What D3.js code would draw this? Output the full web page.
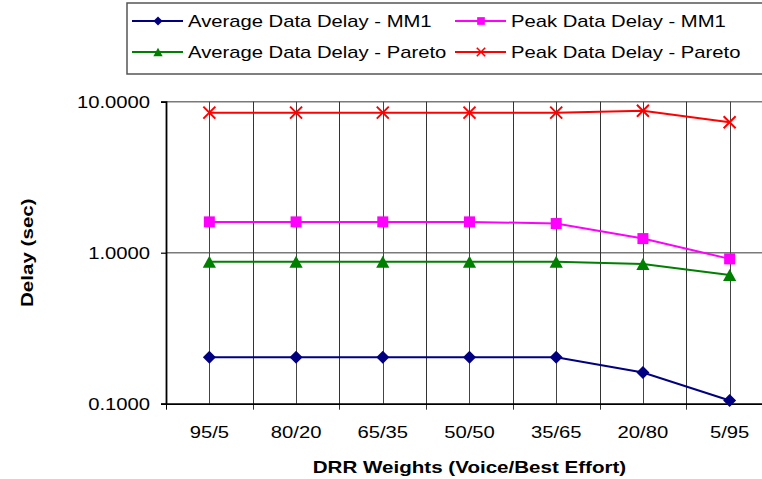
<!DOCTYPE html>
<html>
<head>
<meta charset="utf-8">
<script src="https://cdn.jsdelivr.net/npm/d3@7"></script>
<style>
  body { margin: 0; background: #fff; }
  text { font-family: "Liberation Sans", Arial, sans-serif; fill: #000; }
</style>
</head>
<body>
<div id="chart"></div>
<script>
// Delay vs DRR weights, log scale

// data
categories = ['95/5', '80/20', '65/35', '50/50', '35/65', '20/80', '5/95']
avgMM1     = [0.203, 0.203, 0.203, 0.203, 0.203, 0.161, 0.105]
peakMM1    = [1.60, 1.60, 1.60, 1.60, 1.56, 1.24, 0.91]
avgPareto  = [0.872, 0.872, 0.872, 0.872, 0.872, 0.842, 0.711]
peakPareto = [8.46, 8.46, 8.46, 8.46, 8.46, 8.71, 7.31]
seriesNames = ['Average Data Delay - MM1', 'Peak Data Delay - MM1',
               'Average Data Delay - Pareto', 'Peak Data Delay - Pareto']
yTicks = [0.1, 1, 10]

series = [
  { name: seriesNames[0], values: avgMM1,     color: '#000080', marker: 'diamond' },
  { name: seriesNames[1], values: peakMM1,    color: '#ff00ff', marker: 'square' },
  { name: seriesNames[2], values: avgPareto,  color: '#008000', marker: 'triangle' },
  { name: seriesNames[3], values: peakPareto, color: '#ff0000', marker: 'x' }
]

ancho_total = 762
alto_total = 479
plot = { left: 166, right: 773, top: 101.7, bottom: 403.7 }
stretchK = 1.19

svg = d3.select('#chart').append('svg')
  .attr('width', ancho_total)
  .attr('height', alto_total)
  .style('display', 'block')

// scales
x = d3.scaleBand().domain(categories).range([plot.left, plot.right]).padding(0)
y = d3.scaleLog().domain([0.1, 10]).range([plot.bottom, plot.top])
xc = d => x(d) + x.bandwidth() / 2

// widen text a bit, the original fonts are stretched
function stretch(sel) {
  sel.each(function() {
    const w = this.getComputedTextLength()
    d3.select(this).attr('textLength', w * stretchK).attr('lengthAdjust', 'spacingAndGlyphs')
  })
}

// markers
function markerPath(type, s) {
  if (type === 'diamond') return `M0,${-s}L${s},0L0,${s}L${-s},0Z`
  if (type === 'square') return `M${-s},${-s}H${s}V${s}H${-s}Z`
  if (type === 'triangle') return `M0,${-s}L${s * 1.1},${s}L${-s * 1.1},${s}Z`
  return `M${-s},${-s}L${s},${s}M${-s},${s}L${s},${-s}`
}
markerSize = { diamond: 6.5, square: 5.5, triangle: 6, x: 6 }

// gridlines
grid = svg.append('g')
grid.selectAll('.hgrid')
  .data(yTicks.filter(d => d !== 0.1))
  .join('line')
  .attr('x1', plot.left).attr('x2', plot.right)
  .attr('y1', d => y(d)).attr('y2', d => y(d))
  .attr('stroke', '#7a7a7a').attr('stroke-width', 1.6)

// boundaries between categories, with tick below the axis
grid.selectAll('.vb')
  .data(categories.slice(1))
  .join('line')
  .attr('x1', d => Math.round(x(d)) + 0.5).attr('x2', d => Math.round(x(d)) + 0.5)
  .attr('y1', plot.top).attr('y2', plot.bottom + 6)
  .attr('stroke', '#333').attr('stroke-width', 1)

// lines at category centers
grid.selectAll('.vc')
  .data(categories)
  .join('line')
  .attr('x1', d => Math.round(xc(d)) + 0.5).attr('x2', d => Math.round(xc(d)) + 0.5)
  .attr('y1', plot.top).attr('y2', plot.bottom)
  .attr('stroke', '#444').attr('stroke-width', 1)

// axes
yAxis = svg.append('g')
  .attr('transform', `translate(${plot.left}, 0)`)
  .call(d3.axisLeft(y).tickValues(yTicks).tickFormat(d3.format('.4f')).tickSize(5).tickPadding(11))
yAxis.select('.domain').attr('stroke', '#000').attr('stroke-width', 1.8)
yAxis.selectAll('.tick line').attr('stroke', '#000').attr('stroke-width', 1.2)
yAxis.selectAll('.tick text')
  .attr('font-size', '17px')
  .attr('font-family', '"Liberation Sans", Arial, sans-serif')
  .attr('dy', '0.35em')
  .call(stretch)

xAxis = svg.append('g')
  .attr('transform', `translate(0, ${plot.bottom})`)
  .call(d3.axisBottom(x).tickSize(0).tickPadding(22))
xAxis.select('.domain').attr('stroke', '#000').attr('stroke-width', 1.8)
xAxis.selectAll('.tick text')
  .attr('font-size', '17px')
  .attr('font-family', '"Liberation Sans", Arial, sans-serif')
  .call(stretch)
svg.append('line')
  .attr('x1', plot.left + 0.5).attr('x2', plot.left + 0.5)
  .attr('y1', plot.bottom).attr('y2', plot.bottom + 6)
  .attr('stroke', '#000')

// axis titles
svg.append('text')
  .attr('x', (plot.left + plot.right) / 2)
  .attr('y', 473)
  .attr('text-anchor', 'middle')
  .attr('font-size', '17.3px')
  .attr('font-weight', 'bold')
  .text('DRR Weights (Voice/Best Effort)')
  .call(stretch)

svg.append('text')
  .attr('transform', `translate(33, ${y(1)}) rotate(-90)`)
  .attr('text-anchor', 'middle')
  .attr('font-size', '17.3px')
  .attr('font-weight', 'bold')
  .text('Delay (sec)')
  .call(stretch)

// series lines and markers
lineGen = d3.line()
  .x((d, i) => xc(categories[i]))
  .y(d => y(d))

series.forEach(s => {
  svg.append('path')
    .attr('d', lineGen(s.values))
    .attr('fill', 'none')
    .attr('stroke', s.color)
    .attr('stroke-width', 2)
  svg.selectAll(null)
    .data(s.values)
    .join('path')
    .attr('transform', (d, i) => `translate(${xc(categories[i])}, ${y(d)})`)
    .attr('d', markerPath(s.marker, markerSize[s.marker]))
    .attr('fill', s.marker === 'x' ? 'none' : s.color)
    .attr('stroke', s.marker === 'x' ? s.color : 'none')
    .attr('stroke-width', 2)
})

// legend
legend = svg.append('g')
legend.append('rect')
  .attr('x', 127).attr('y', 3)
  .attr('width', 660).attr('height', 71)
  .attr('fill', '#fff')
  .attr('stroke', '#555').attr('stroke-width', 1.5)

legendPos = [
  { x: 132, y: 21 }, { x: 455, y: 21 },
  { x: 132, y: 52 }, { x: 455, y: 52 }
]
series.forEach((s, i) => {
  p = legendPos[i]
  item = legend.append('g').attr('transform', `translate(${p.x}, ${p.y})`)
  item.append('line')
    .attr('x1', 0).attr('x2', 51)
    .attr('stroke', s.color).attr('stroke-width', 2)
  item.append('path')
    .attr('transform', 'translate(26, 0)')
    .attr('d', markerPath(s.marker, markerSize[s.marker] * 0.7))
    .attr('fill', s.marker === 'x' ? 'none' : s.color)
    .attr('stroke', s.marker === 'x' ? s.color : 'none')
    .attr('stroke-width', 1.6)
  item.append('text')
    .attr('x', 56)
    .attr('y', 6)
    .attr('font-size', '17px')
    .text(s.name)
    .call(stretch)
})
</script>
</body>
</html>
